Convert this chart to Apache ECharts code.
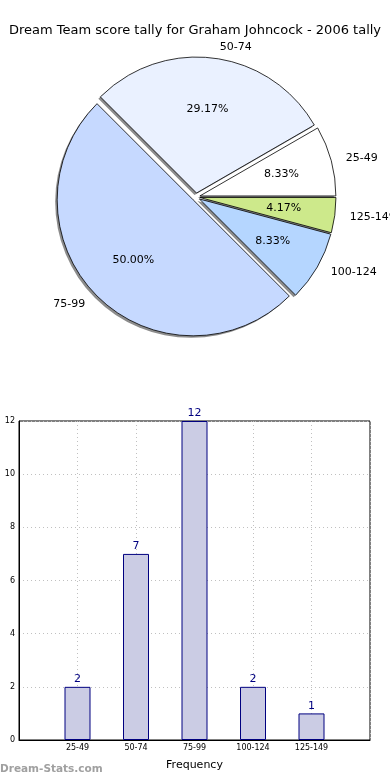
<!DOCTYPE html>
<html>
<head>
<meta charset="utf-8">
<script src="https://cdn.jsdelivr.net/npm/echarts@6/dist/echarts.min.js"></script>
<style>
html,body{margin:0;padding:0;background:#fff;}
#chart{width:390px;height:780px;}
</style>
</head>
<body>
<div id="chart"></div>
<script>
var titleText = 'Dream Team score tally for Graham Johncock - 2006 tally';
var categories = ['25-49', '50-74', '75-99', '100-124', '125-149'];
var counts = [2, 7, 12, 2, 1];
var sliceColors = ['#ffffff', '#eaf1ff', '#c6d9ff', '#b5d6ff', '#cde98b'];
var yTicks = [0, 2, 4, 6, 8, 10, 12];
var xAxisName = 'Frequency';
var yAxisName = 'Distribution';
var watermark = 'Dream-Stats.com';

var FONT = 'DejaVu Sans';
var R = 136;
var CENTER = [196, 197];
var SHADOW_CENTER = [CENTER[0] - 2, CENTER[1] + 2];

var pieData = categories.map(function (c, i) {
  return { name: c, value: counts[i], selected: true, itemStyle: { color: sliceColors[i] } };
});
var plainData = categories.map(function (c, i) {
  return { name: c, value: counts[i], selected: true };
});
var barCats = [''].concat(categories).concat(['']);
var barVals = ['-'].concat(counts).concat(['-']);

var chart = echarts.init(document.getElementById('chart'), null, { renderer: 'canvas' });
chart.setOption({
  animation: false,
  textStyle: { fontFamily: FONT },
  title: {
    text: titleText, left: 'center', top: 19,
    textStyle: { fontSize: 13, fontWeight: 'normal', color: '#000', fontFamily: FONT }
  },
  graphic: [{
    type: 'text', left: 0, top: 764,
    style: { text: watermark, fontSize: 10.5, fontWeight: 'bold', fill: '#a0a0a0', fontFamily: FONT }
  }],
  grid: {
    left: 19, right: 20, top: 421, bottom: 40,
    containLabel: false, outerBoundsMode: 'none',
    show: true, borderColor: '#000', borderWidth: 1, backgroundColor: 'transparent'
  },
  xAxis: {
    type: 'category', data: barCats, boundaryGap: false,
    name: xAxisName, nameLocation: 'middle', nameGap: 20,
    nameTextStyle: { fontSize: 11, color: '#000', fontFamily: FONT },
    axisLine: { lineStyle: { color: '#000' } },
    axisTick: { show: false },
    axisLabel: { fontSize: 8, color: '#000', margin: 4, interval: 0, fontFamily: FONT },
    splitLine: { show: true, lineStyle: { color: '#c0c0c0', type: [1, 3] } }
  },
  yAxis: {
    type: 'value', min: yTicks[0], max: yTicks[yTicks.length - 1], interval: 2,
    name: yAxisName, nameLocation: 'middle', nameGap: 19,
    nameTextStyle: { fontSize: 11, color: '#000', fontFamily: FONT },
    axisLine: { show: true, lineStyle: { color: '#000' } },
    axisTick: { show: false },
    axisLabel: { fontSize: 8, color: '#000', margin: 4, fontFamily: FONT },
    splitLine: { show: true, lineStyle: { color: '#c0c0c0', type: [1, 3] } }
  },
  series: [
    {
      type: 'pie', center: SHADOW_CENTER, radius: R, startAngle: 0, clockwise: false,
      selectedMode: 'multiple', selectedOffset: 4, silent: true, z: 1,
      data: plainData,
      itemStyle: { color: '#8c8c8c', borderWidth: 0 },
      label: { show: false }, labelLine: { show: false },
      emphasis: { disabled: true },
      select: { itemStyle: { color: '#8c8c8c', borderWidth: 0 } }
    },
    {
      type: 'pie', center: CENTER, radius: R, startAngle: 0, clockwise: false, z: 2,
      selectedMode: 'multiple', selectedOffset: 4, avoidLabelOverlap: false,
      data: pieData,
      itemStyle: { borderColor: '#000', borderWidth: 0.8 },
      label: { show: true, position: 'outside', formatter: '{b}', fontSize: 11, color: '#000', fontFamily: FONT, distanceToLabelLine: 4 },
      labelLine: { show: false, length: 11, length2: 0 },
      emphasis: { disabled: true },
      select: { itemStyle: { borderColor: '#000', borderWidth: 0.8 } }
    },
    {
      type: 'pie', center: CENTER, radius: R * 1.2, startAngle: 0, clockwise: false, z: 3,
      selectedMode: 'multiple', selectedOffset: 4, silent: true, avoidLabelOverlap: false,
      data: plainData,
      itemStyle: { color: 'rgba(0,0,0,0)', borderWidth: 0 },
      label: {
        show: true, position: 'inside', fontSize: 11, color: '#000', fontFamily: FONT,
        formatter: function (p) { return p.percent.toFixed(2) + '%'; }
      },
      labelLine: { show: false },
      emphasis: { disabled: true },
      select: { itemStyle: { color: 'rgba(0,0,0,0)', borderWidth: 0 } }
    },
    {
      type: 'bar', data: barVals, barWidth: 26,
      itemStyle: { color: '#cbcce4', borderColor: '#000080', borderWidth: 1 },
      label: { show: true, position: 'top', color: '#000080', fontSize: 11, distance: 2, fontFamily: FONT },
      emphasis: { disabled: true }
    }
  ]
});
</script>
</body>
</html>
